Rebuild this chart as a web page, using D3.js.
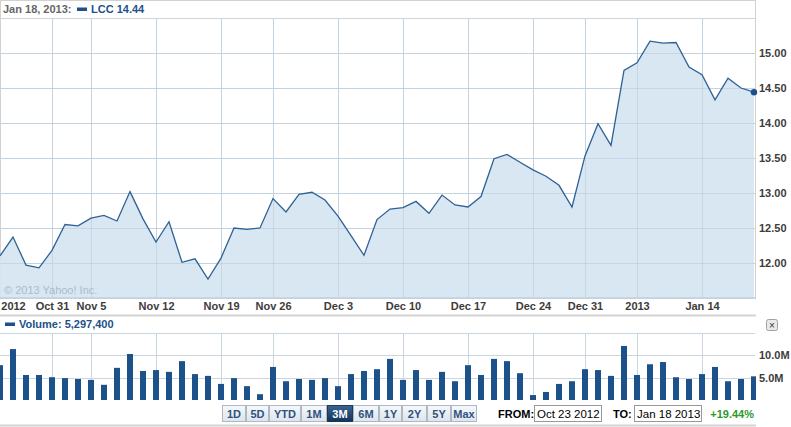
<!DOCTYPE html>
<html><head><meta charset="utf-8">
<script src="https://cdn.jsdelivr.net/npm/d3@7/dist/d3.min.js"></script>
<style>
body{margin:0;background:#fff;}
svg{display:block;font-family:"Liberation Sans",Arial,sans-serif;}
</style></head>
<body><svg id="c" width="791" height="427"></svg>
<script>
const dates = ["Oct 23","Oct 24","Oct 25","Oct 26","Oct 31","Nov 1","Nov 2","Nov 5","Nov 6","Nov 7","Nov 8","Nov 9",
"Nov 12","Nov 13","Nov 14","Nov 15","Nov 16","Nov 19","Nov 20","Nov 21","Nov 23","Nov 26","Nov 27","Nov 28","Nov 29","Nov 30",
"Dec 3","Dec 4","Dec 5","Dec 6","Dec 7","Dec 10","Dec 11","Dec 12","Dec 13","Dec 14","Dec 17","Dec 18","Dec 19","Dec 20","Dec 21",
"Dec 24","Dec 26","Dec 27","Dec 28","Dec 31","Jan 2","Jan 3","Jan 4","Jan 7","Jan 8","Jan 9","Jan 10","Jan 11",
"Jan 14","Jan 15","Jan 16","Jan 17","Jan 18"];
const prices = [12.10,12.37,11.97,11.93,12.18,12.55,12.53,12.64,12.68,12.60,13.02,12.63,
12.30,12.59,12.01,12.06,11.77,12.07,12.50,12.48,12.50,12.92,12.73,12.98,13.01,12.90,
12.67,12.39,12.11,12.62,12.77,12.79,12.88,12.71,12.97,12.83,12.80,12.95,13.49,13.55,13.44,
13.33,13.24,13.11,12.80,13.53,13.99,13.68,14.75,14.86,15.17,15.14,15.15,14.80,
14.69,14.33,14.64,14.50,14.44];
const volumes = [7.8,11.4,5.6,5.6,5.1,4.9,4.7,4.5,3.4,7.2,10.3,6.5,
6.7,6.3,8.7,5.8,5.4,3.6,4.9,3.1,1.3,7.4,4.2,4.7,4.5,4.9,
3.1,5.8,6.5,6.9,9.2,4.5,6.7,4.5,6.3,4.2,7.8,5.6,9.2,8.7,6.0,
1.1,1.8,3.6,4.2,6.9,6.7,5.4,12.1,5.6,8.0,8.5,5.1,4.7,
5.8,7.4,4.2,4.7,5.3];
const priceTicks = [12,12.5,13,13.5,14,14.5,15];
const volumeTicks = [5,10];
const gridDates = ["Oct 31","Nov 5","Nov 12","Nov 19","Nov 26","Dec 3","Dec 10","Dec 17","Dec 24","Dec 31","Jan 7","Jan 14"];
const gridLabels = ["Oct 31","Nov 5","Nov 12","Nov 19","Nov 26","Dec 3","Dec 10","Dec 17","Dec 24","Dec 31","2013","Jan 14"];
const yearLabelDate = "Oct 24", yearLabel = "2012";
const buttons = ["1D","5D","YTD","1M","3M","6M","1Y","2Y","5Y","Max"];
const selectedButton = "3M";
const headerDate = "Jan 18, 2013:", symbol = "LCC", lastPrice = "14.44";
const volumeLabel = "Volume: 5,297,400";
const fromDate = "Oct 23 2012", toDate = "Jan 18 2013", change = "+19.44%";

const svg = d3.select("#c");
const W = 755;
const GRID = "#c9d6e0", LINE = "#2f6196", FILL = "#d5e5f1", BAR = "#1d5189", AX = "#3c3c3c";

const x = d3.scalePoint().domain(dates).range([0, 754]);
const y = d3.scaleLinear().domain([11.5, 15.5]).range([298, 18]);
const yv = d3.scaleLinear().domain([0, 15]).range([400, 333]);

const defs = svg.append("defs");
defs.append("linearGradient").attr("id","btn").attr("x1",0).attr("x2",0).attr("y1",0).attr("y2",1)
  .selectAll("stop").data([["0%","#f7f9fb"],["100%","#dde4eb"]]).join("stop")
  .attr("offset",d=>d[0]).attr("stop-color",d=>d[1]);
defs.append("linearGradient").attr("id","btnSel").attr("x1",0).attr("x2",0).attr("y1",0).attr("y2",1)
  .selectAll("stop").data([["0%","#3c6590"],["100%","#12325a"]]).join("stop")
  .attr("offset",d=>d[0]).attr("stop-color",d=>d[1]);
defs.append("clipPath").attr("id","clipV").append("rect").attr("x",0).attr("y",330).attr("width",756).attr("height",71);

// ---- price panel ----
svg.append("rect").attr("x",0.5).attr("y",0.5).attr("width",W).attr("height",298)
  .attr("fill","#fff").attr("stroke","#d2d2d2");
// horizontal grid
svg.append("g").selectAll("line").data(priceTicks.concat([15.5])).join("line")
  .attr("x1",0).attr("x2",W).attr("y1",d=>Math.round(y(d))+0.5).attr("y2",d=>Math.round(y(d))+0.5)
  .attr("stroke",GRID);
// vertical grid
svg.append("g").selectAll("line").data(gridDates).join("line")
  .attr("x1",d=>Math.round(x(d))+0.5).attr("x2",d=>Math.round(x(d))+0.5).attr("y1",18).attr("y2",298)
  .attr("stroke",GRID);

const area = d3.area().x((d,i)=>x(dates[i])).y0(298).y1(d=>y(d));
const line = d3.line().x((d,i)=>x(dates[i])).y(d=>y(d));
svg.append("path").datum(prices).attr("d",area).attr("fill",FILL).attr("fill-opacity",0.92);
// redraw grid lightly over fill
svg.append("g").selectAll("line").data(gridDates).join("line")
  .attr("x1",d=>Math.round(x(d))+0.5).attr("x2",d=>Math.round(x(d))+0.5).attr("y1",18).attr("y2",298)
  .attr("stroke","#bfd2e1").attr("stroke-opacity",0.7);
svg.append("g").selectAll("line").data(priceTicks).join("line")
  .attr("x1",0).attr("x2",W).attr("y1",d=>Math.round(y(d))+0.5).attr("y2",d=>Math.round(y(d))+0.5)
  .attr("stroke","#bfd2e1").attr("stroke-opacity",0.7);
svg.append("line").attr("x1",0).attr("x2",W).attr("y1",298).attr("y2",298).attr("stroke","#bfd2e1").attr("stroke-width",1.5);
svg.append("line").attr("x1",W+0.5).attr("x2",W+0.5).attr("y1",0).attr("y2",299).attr("stroke","#d2d2d2");

svg.append("path").datum(prices).attr("d",line).attr("fill","none").attr("stroke",LINE).attr("stroke-width",1.3);
svg.append("circle").attr("cx",x(dates[dates.length-1])).attr("cy",y(prices[prices.length-1])).attr("r",3.2).attr("fill",BAR);

// watermark
svg.append("text").attr("x",4).attr("y",294).attr("font-size",11).attr("fill","#aabdcc").text("\u00a9 2013 Yahoo! Inc.");

// header
svg.append("text").attr("x",3).attr("y",13).attr("font-size",11).attr("font-weight","bold").attr("fill","#666").text(headerDate);
svg.append("rect").attr("x",77).attr("y",7.5).attr("width",10).attr("height",3.5).attr("fill",BAR);
svg.append("text").attr("x",91).attr("y",13).attr("font-size",11).attr("font-weight","bold").attr("fill",BAR).text(symbol+" "+lastPrice);

// right price axis
const yAxis = d3.axisRight(y).tickValues(priceTicks).tickSize(0).tickPadding(0).tickFormat(d3.format(".2f"));
const ya = svg.append("g").attr("transform",`translate(759,0)`).call(yAxis);
ya.select(".domain").remove();
ya.selectAll("text").attr("font-size",11).attr("font-weight","bold").attr("fill",AX).attr("font-family","Liberation Sans, Arial, sans-serif");

// x axis labels
const xAxis = d3.axisBottom(x).tickValues(gridDates.concat([yearLabelDate])).tickSize(0).tickPadding(0)
  .tickFormat(d => d===yearLabelDate ? yearLabel : gridLabels[gridDates.indexOf(d)]);
const xa = svg.append("g").attr("transform","translate(0,302)").call(xAxis);
xa.select(".domain").remove();
xa.selectAll("text").attr("font-size",11).attr("font-weight","bold").attr("fill",AX).attr("font-family","Liberation Sans, Arial, sans-serif");

// separator
svg.append("line").attr("x1",0).attr("x2",756).attr("y1",315.5).attr("y2",315.5).attr("stroke","#d3d3d3").attr("stroke-width",2);

// ---- volume panel ----
svg.append("rect").attr("x",5).attr("y",322.5).attr("width",10).attr("height",3.5).attr("fill",BAR);
svg.append("text").attr("x",19).attr("y",328).attr("font-size",11).attr("font-weight","bold").attr("fill",BAR).text(volumeLabel);
svg.append("g").selectAll("line").data([15].concat(volumeTicks)).join("line")
  .attr("x1",0).attr("x2",W).attr("y1",d=>Math.round(yv(d))+0.5).attr("y2",d=>Math.round(yv(d))+0.5).attr("stroke",GRID);
svg.append("g").selectAll("line").data(gridDates).join("line")
  .attr("x1",d=>Math.round(x(d))+0.5).attr("x2",d=>Math.round(x(d))+0.5).attr("y1",333).attr("y2",400).attr("stroke",GRID);
svg.append("g").attr("clip-path","url(#clipV)").selectAll("rect").data(volumes).join("rect")
  .attr("x",(d,i)=>x(dates[i])-3).attr("width",6)
  .attr("y",d=>yv(d)).attr("height",d=>400-yv(d)).attr("fill",BAR);
const yvAxis = d3.axisRight(yv).tickValues(volumeTicks).tickSize(0).tickPadding(0).tickFormat(d=>d.toFixed(1)+"M");
const yva = svg.append("g").attr("transform","translate(759,0)").call(yvAxis);
yva.select(".domain").remove();
yva.selectAll("text").attr("font-size",11).attr("font-weight","bold").attr("fill",AX).attr("font-family","Liberation Sans, Arial, sans-serif");

// close button
svg.append("rect").attr("x",766.5).attr("y",319.5).attr("width",11).attr("height",11).attr("rx",2)
  .attr("fill","#e9e9e9").attr("stroke","#a0a0a0");
svg.append("text").attr("x",772).attr("y",328.5).attr("text-anchor","middle").attr("font-size",10).attr("fill","#333").text("\u00d7");

// ---- range buttons ----
const btnEdges = [222,246,269,301,327,353,379,402,427,451,477];
const bg = svg.append("g");
buttons.forEach((b,i)=>{
  const x0 = btnEdges[i], x1 = btnEdges[i+1]-1;
  const sel = b===selectedButton;
  bg.append("rect").attr("x",x0+0.5).attr("y",405.5).attr("width",x1-x0).attr("height",16)
    .attr("fill",sel?"url(#btnSel)":"url(#btn)").attr("stroke",sel?"#1b3a60":"#aeb9c4");
  bg.append("text").attr("x",(x0+x1)/2+0.5).attr("y",418).attr("text-anchor","middle")
    .attr("font-size",11).attr("font-weight","bold").attr("fill",sel?"#fff":"#2c5380").text(b);
});

svg.append("text").attr("x",498).attr("y",418).attr("font-size",11).attr("font-weight","bold").attr("fill","#000").text("FROM:");
svg.append("rect").attr("x",534.5).attr("y",405.5).attr("width",67).attr("height",16).attr("fill","#fff").attr("stroke","#999");
svg.append("text").attr("x",537).attr("y",418).attr("font-size",11.5).attr("fill","#000").text(fromDate);
svg.append("text").attr("x",613).attr("y",418).attr("font-size",11).attr("font-weight","bold").attr("fill","#000").text("TO:");
svg.append("rect").attr("x",634.5).attr("y",405.5).attr("width",67).attr("height",16).attr("fill","#fff").attr("stroke","#999");
svg.append("text").attr("x",637).attr("y",418).attr("font-size",11.5).attr("fill","#000").text(toDate);
svg.append("text").attr("x",754).attr("y",418).attr("text-anchor","end").attr("font-size",11).attr("font-weight","bold").attr("fill","#2a9a2a").text(change);

svg.append("line").attr("x1",0).attr("x2",756).attr("y1",425.5).attr("y2",425.5).attr("stroke","#d3d3d3").attr("stroke-width",2);
</script></body></html>
